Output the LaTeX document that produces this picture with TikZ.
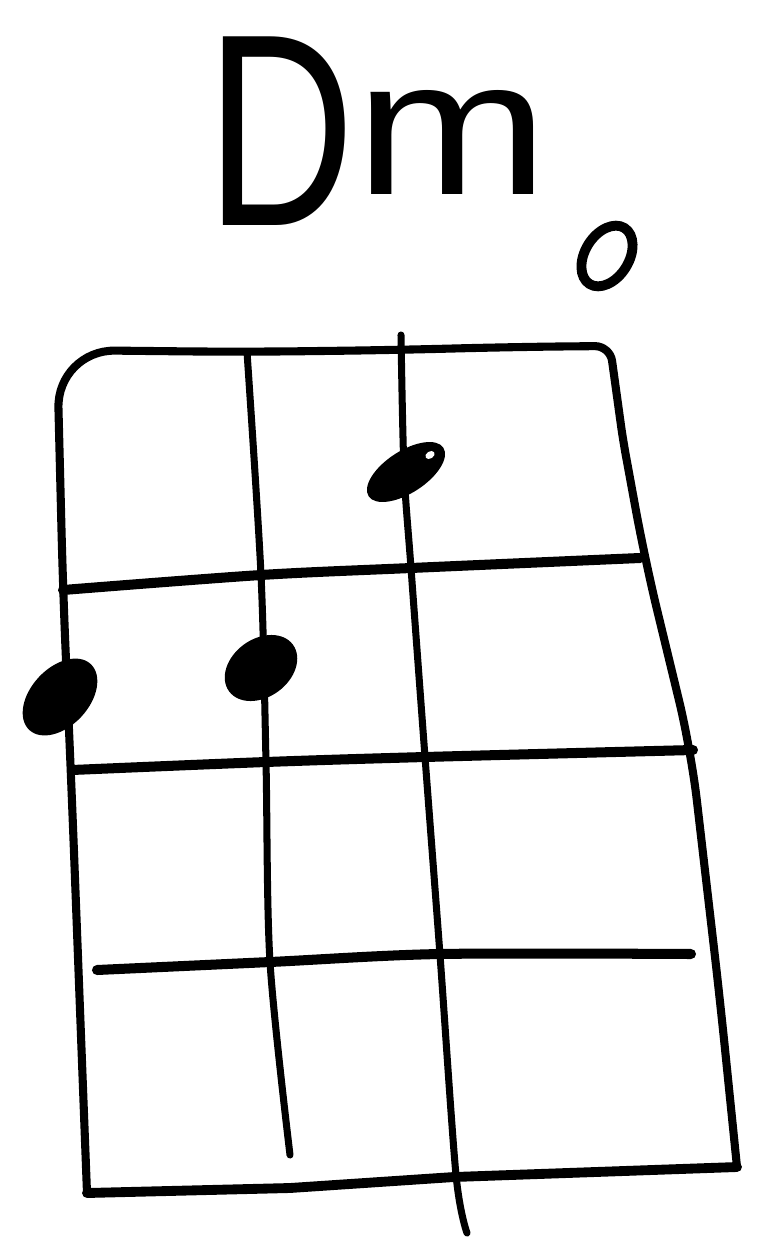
\documentclass[tikz,border=0pt]{standalone}
\usepackage{fontspec}
\usepackage{graphicx}
\usetikzlibrary{shapes.geometric}
\newfontfamily\chordfont{Liberation Sans}

\begin{document}
\begin{tikzpicture}[x=0.01cm, y=-0.01cm,
    strline/.style={line width=2pt, line cap=round, line join=round},
    fretline/.style={line width=2.85pt, line cap=round},
    fingerdot/.style={ellipse, fill=black, inner sep=0pt},
    opendot/.style={ellipse, draw=black, line width=2.8pt, inner sep=0pt}]
    \useasboundingbox (0,0) rectangle (757,1243);
    \node[anchor=base west, inner sep=0pt] (chord) at (206,226) {\chordfont\scalebox{0.75}[1]{\fontsize{78}{80}\selectfont D}\raisebox{0.31cm}{\scalebox{1.2}[1]{\fontsize{55}{60}\selectfont m}}};
    \node[opendot, minimum width=0.66cm, minimum height=0.44cm, rotate=58] (open) at (607,256) {};
    % frame
    \draw[strline, line width=2.3pt, rounded corners=0.58cm] (87,1193) -- (72,800) -- (63,590) -- (57,350) -- (242,352) -- (400,350) -- (507,347) [rounded corners=0.15cm] -- (610,346) -- (623,440) [rounded corners=0.5cm] -- (645,560) -- (691,750) -- (720,1000) -- (737,1167);
    \draw[strline, line width=2.8pt] (87,1193) -- (290,1188) -- (454,1177) -- (737,1167);
    % strings
    \draw[strline] plot[smooth] coordinates {(247,352) (261,575) (266,762) (270,962) (290,1155)};
    \draw[strline] plot[smooth] coordinates {(401,335) (404,470) (411,568) (425,757) (440,955) (456,1175) (467,1233)};
    % frets
    \draw[fretline] plot[smooth] coordinates {(63,590) (261,575) (411,568) (640,558)};
    \draw[fretline] plot[smooth] coordinates {(72,770) (266,762) (425,757) (693,750)};
    \draw[fretline] plot[smooth] coordinates {(97,970) (270,962) (440,954) (691,954)};
    % fingers
    \foreach \nm/\px/\py/\w/\h/\a in {dotA/406/472/0.89/0.42/33, dotB/261/668/0.79/0.58/36, dotC/60/697/0.9/0.58/47}
        {\node[fingerdot, minimum width=\w cm, minimum height=\h cm, rotate=\a] (\nm) at (\px,\py) {};}
    \node[fingerdot, fill=white, minimum width=0.1cm, minimum height=0.07cm, rotate=33] (shine) at (430,455) {};
\end{tikzpicture}
\end{document}
